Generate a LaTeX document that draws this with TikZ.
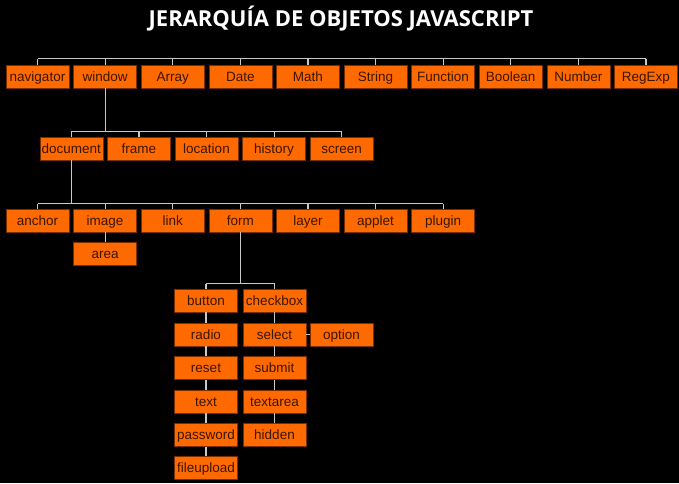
\documentclass[tikz,border=0pt]{standalone}
\usepackage{fontspec}
\setmainfont{Liberation Sans}
\newfontfamily\titlefont{Open Sans}
\definecolor{boxfill}{HTML}{FF6A00}
\definecolor{boxtext}{HTML}{3A1500}
\definecolor{boxedge}{HTML}{7A2E00}
\definecolor{linecol}{HTML}{C8C8C8}
\begin{document}
\begin{tikzpicture}[x=1pt,y=-1pt,
  obj/.style={draw=boxedge,line width=0.6pt,fill=boxfill,text=boxtext,minimum width=63pt,minimum height=23pt,inner sep=0pt,text height=10pt,text depth=1pt,font=\fontsize{13.5}{13.5}\selectfont},
  conn/.style={draw=linecol,line width=1.2pt}]
\fill[black] (0,0) rectangle (679,483);
\useasboundingbox (0,0) rectangle (679,483);
\node[text=white,font=\titlefont\bfseries\fontsize{22}{22}\selectfont] (title) at (341,18.5) {JERARQUÍA DE OBJETOS JAVASCRIPT};
% row 1
\foreach \n [count=\i from 0] in {navigator,window,Array,Date,Math,String,Function,Boolean,Number,RegExp}
  {\node[obj] (\n) at ({37.5+67.6*\i},76.5) {\n};}
% row 2
\foreach \n [count=\i from 0] in {document,frame,location,history,screen}
  {\node[obj] (\n) at ({71.3+67.6*\i},148.5) {\n};}
% row 3
\foreach \n [count=\i from 0] in {anchor,image,link,form,layer,applet,plugin}
  {\node[obj] (\n) at ({37.5+67.6*\i},220.5) {\n};}
\node[obj] (area) at (105.1,254) {area};
% form children
\foreach \n/\y in {button/300.5,radio/334.5,reset/368,text/401.5,password/435,fileupload/467.5}
  {\node[obj] (\n) at (206,\y) {\n};}
\foreach \n/\y in {checkbox/300.5,select/334.5,submit/368,textarea/401.5,hidden/435}
  {\node[obj] (\n) at (274.5,\y) {\n};}
\node[obj] (option) at (341.5,334.5) {option};
% bus coordinates
\coordinate (bus1) at ([yshift=6pt]navigator.north);
\coordinate (bus2) at ([yshift=5pt]document.north);
\coordinate (bus3) at ([yshift=5pt]anchor.north);
\coordinate (bus4) at ([yshift=5pt]button.north);
% connectors row 1
\draw[conn] (bus1) -- (bus1 -| RegExp.north);
\foreach \n in {navigator,window,Array,Date,Math,String,Function,Boolean,Number,RegExp}
  {\draw[conn] (\n.north) -- (\n.north |- bus1);}
% row 2
\draw[conn] (window.south) -- (window.south |- bus2);
\draw[conn] (bus2) -- (bus2 -| screen.north);
\foreach \n in {document,frame,location,history,screen}
  {\draw[conn] (\n.north) -- (\n.north |- bus2);}
% row 3
\draw[conn] (document.south) -- (document.south |- bus3);
\draw[conn] (bus3) -- (bus3 -| plugin.north);
\foreach \n in {anchor,image,link,form,layer,applet,plugin}
  {\draw[conn] (\n.north) -- (\n.north |- bus3);}
\draw[conn] (image.south) -- (area.north);
% form children
\draw[conn] (form.south) -- (form.south |- bus4);
\draw[conn] (bus4) -- (bus4 -| checkbox.north);
\draw[conn] (button.north) -- (button.north |- bus4);
\draw[conn] (checkbox.north) -- (checkbox.north |- bus4);
\draw[conn] (button.south) -- (radio.north);
\draw[conn] (radio.south) -- (reset.north);
\draw[conn] (reset.south) -- (text.north);
\draw[conn] (text.south) -- (password.north);
\draw[conn] (password.south) -- (fileupload.north);
\draw[conn] (checkbox.south) -- (select.north);
\draw[conn] (select.south) -- (submit.north);
\draw[conn] (submit.south) -- (textarea.north);
\draw[conn] (textarea.south) -- (hidden.north);
\draw[conn] (select.east) -- (option.west);
\end{tikzpicture}
\end{document}
